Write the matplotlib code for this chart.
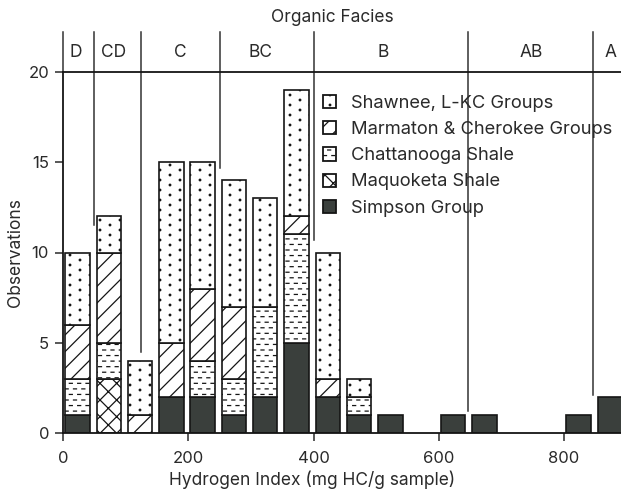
import numpy as np
import matplotlib
matplotlib.use("Agg")
import matplotlib.pyplot as plt
import matplotlib.hatch as mhatch
from matplotlib.path import Path
from matplotlib.patches import Patch

# ---------------- data ----------------
bin_starts = [0, 50, 100, 150, 200, 250, 300, 350, 400, 450, 500, 550, 600, 650, 700, 750, 800, 850]
simpson     = [1, 0, 0, 2, 2, 1, 2, 5, 2, 1, 1, 0, 1, 1, 0, 0, 1, 2]
maquoketa   = [0, 3, 0, 0, 0, 0, 0, 0, 0, 0, 0, 0, 0, 0, 0, 0, 0, 0]
chattanooga = [2, 2, 0, 0, 2, 2, 5, 6, 0, 1, 0, 0, 0, 0, 0, 0, 0, 0]
marmaton    = [3, 5, 1, 3, 4, 4, 0, 1, 1, 0, 0, 0, 0, 0, 0, 0, 0, 0]
shawnee     = [4, 2, 3, 10, 7, 7, 6, 7, 7, 1, 0, 0, 0, 0, 0, 0, 0, 0]

group_names = ["Shawnee, L-KC Groups", "Marmaton & Cherokee Groups",
               "Chattanooga Shale", "Maquoketa Shale", "Simpson Group"]

facies_labels = ["D", "CD", "C", "BC", "B", "AB", "A"]
facies_label_x = [20, 80, 188, 315, 512, 748, 875]
facies_bounds = [0, 50, 125, 250, 400, 646, 847]
facies_line_bottom = [20, 11.5, 4.5, 14.7, 10.7, 1.2, 2.1]

x_ticks = [0, 200, 400, 600, 800]
y_ticks = [0, 5, 10, 15, 20]


# ---------------- custom hatches ----------------
class DotHatch(mhatch.HatchPatternBase):
    """Sparse staggered dots, triggered by '.'"""
    def __init__(self, hatch, density):
        if hatch.count('.') == 0:
            self.num_vertices = 0
            return
        circ = Path.unit_circle()
        r = 0.008
        n = 10
        verts, codes = [], []
        for i in range(n + 1):
            x = i / n
            shift = 0.5 / n if i % 2 else 0.0
            for j in range(-1, n + 1):
                y = j / n + shift
                verts.append(circ.vertices * r + [x, y])
                codes.append(circ.codes)
        self._v = np.concatenate(verts)
        self._c = np.concatenate(codes)
        self.num_vertices = len(self._v)

    def set_vertices_and_codes(self, vertices, codes):
        vertices[:] = self._v
        codes[:] = self._c


class DashHatch(mhatch.HatchPatternBase):
    """Rows of short staggered dashes, triggered by '*'"""
    def __init__(self, hatch, density):
        if hatch.count('*') == 0:
            self.num_vertices = 0
            return
        nrow, ncol, L = 18, 12, 0.03
        verts, codes = [], []
        for j in range(nrow + 1):
            y = j / nrow
            shift = 0.5 / ncol if j % 2 else 0.0
            for i in range(-1, ncol + 1):
                xc = i / ncol + shift
                verts.append([[xc - L / 2, y], [xc + L / 2, y]])
                codes.append([Path.MOVETO, Path.LINETO])
        self._v = np.concatenate(verts).astype(float)
        self._c = np.concatenate(codes).astype(Path.code_type)
        self.num_vertices = len(self._v)

    def set_vertices_and_codes(self, vertices, codes):
        vertices[:] = self._v
        codes[:] = self._c


mhatch._hatch_types = [t for t in mhatch._hatch_types
                       if t not in (mhatch.SmallFilledCircles, mhatch.Stars)]
mhatch._hatch_types += [DotHatch, DashHatch]

plt.rcParams["font.family"] = ["Inter", "DejaVu Sans"]
plt.rcParams["hatch.linewidth"] = 0.9
plt.rcParams["hatch.color"] = "#111111"

TXT = "#2a2a2a"
EDGE = "#151515"
DARK = "#3a3f3c"

styles = {
    "Simpson Group": dict(facecolor=DARK, hatch=None),
    "Maquoketa Shale": dict(facecolor="white", hatch="xx"),
    "Chattanooga Shale": dict(facecolor="white", hatch="*"),
    "Marmaton & Cherokee Groups": dict(facecolor="white", hatch="//"),
    "Shawnee, L-KC Groups": dict(facecolor="white", hatch="."),
}

fig = plt.figure(figsize=(6.21, 4.92), dpi=100)
ax = fig.add_axes([63 / 621, 59 / 492, 558 / 621, 361 / 492])

centers = np.array(bin_starts) + 23
width = 39

stack_order = [("Simpson Group", simpson), ("Maquoketa Shale", maquoketa),
               ("Chattanooga Shale", chattanooga),
               ("Marmaton & Cherokee Groups", marmaton),
               ("Shawnee, L-KC Groups", shawnee)]
bottom = np.zeros(len(bin_starts))
for name, vals in stack_order:
    vals = np.array(vals, dtype=float)
    m = vals > 0
    st = styles[name]
    ax.bar(centers[m], vals[m], width=width, bottom=bottom[m],
           facecolor=st["facecolor"], edgecolor=EDGE, linewidth=1.2,
           hatch=st["hatch"], zorder=2)
    bottom += vals

ax.set_xlim(0, 891)
ax.set_ylim(0, 20)
ax.set_xticks(x_ticks)
ax.set_yticks(y_ticks)
ax.tick_params(axis="both", direction="out", length=6, width=1.1,
               colors=TXT, labelsize=12)
ax.tick_params(axis="x", pad=7)
ax.tick_params(axis="y", pad=4)
for s in ["left", "bottom", "top"]:
    ax.spines[s].set_linewidth(1.3)
    ax.spines[s].set_color(EDGE)
ax.spines["right"].set_visible(False)

# facies boundaries
for b, yb in zip(facies_bounds, facies_line_bottom):
    ax.plot([b, b], [yb, 22.2], color="#333333", lw=1.1, clip_on=False, zorder=1)
for lx, lab in zip(facies_label_x, facies_labels):
    ax.text(lx, 21.1, lab, ha="center", va="center", fontsize=12.5,
            color=TXT, clip_on=False)
fig.text(332 / 621, 1 - 18 / 492, "Organic Facies", ha="center", va="center",
         fontsize=12.5, color=TXT)

fig.text(312 / 621, 1 - 485 / 492, "Hydrogen Index (mg HC/g sample)",
         ha="center", va="baseline", fontsize=12.5, color=TXT)
fig.text(16 / 621, 1 - 253 / 492, "Observations", rotation=90,
         ha="center", va="center", fontsize=12.5, color=TXT)

handles = [Patch(facecolor=styles[n]["facecolor"], edgecolor=EDGE, linewidth=1.3,
                 hatch=styles[n]["hatch"], label=n) for n in group_names]
leg = fig.legend(handles=handles, loc="upper left",
                 bbox_to_anchor=(323 / 621, 1 - 95 / 492),
                 frameon=False, fontsize=13.2, handlelength=0.73,
                 handleheight=0.73, handletextpad=0.78, labelspacing=0.5,
                 borderpad=0, borderaxespad=0)
for t in leg.get_texts():
    t.set_color(TXT)

fig.savefig("out.png", dpi=100)
